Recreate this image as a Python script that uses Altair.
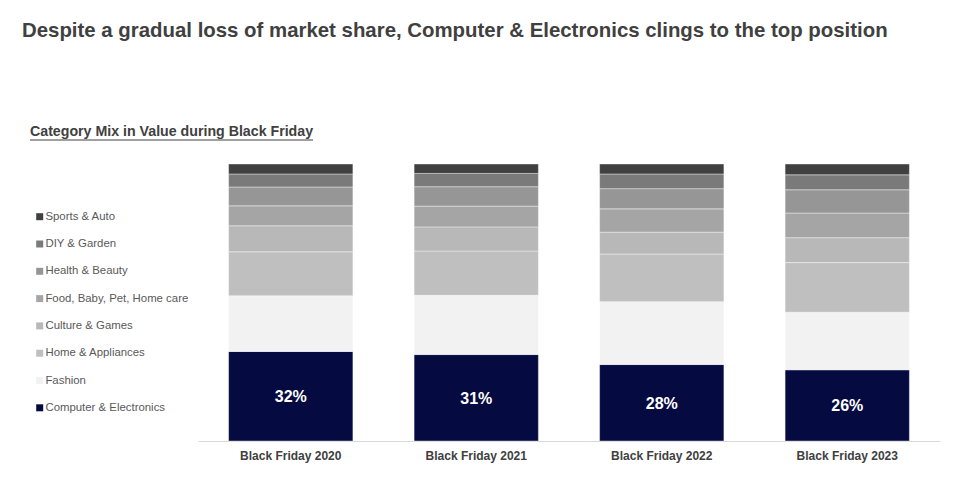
import altair as alt
import pandas as pd

TITLE = "Despite a gradual loss of market share, Computer & Electronics clings to the top position"
SUBTITLE = "Category Mix in Value during Black Friday"

periods = ["Black Friday 2020", "Black Friday 2021", "Black Friday 2022", "Black Friday 2023"]
# bottom -> top stacking order
categories = ["Computer & Electronics", "Fashion", "Home & Appliances", "Culture & Games",
              "Food, Baby, Pet, Home care", "Health & Beauty", "DIY & Garden", "Sports & Auto"]
colors = ["#050A41", "#F2F2F2", "#BFBFBF", "#B8B8B8", "#A5A5A5", "#969696", "#7A7A7A", "#404040"]

share_2020 = [32.3, 20.1, 15.9, 9.4, 7.2, 6.8, 4.7, 3.6]
share_2021 = [31.2, 21.4, 16.0, 8.7, 7.5, 7.0, 4.8, 3.4]
share_2022 = [27.6, 22.7, 17.2, 7.9, 8.4, 7.3, 5.3, 3.6]
share_2023 = [25.7, 20.8, 17.9, 9.0, 8.9, 8.4, 5.4, 3.9]

rows = []
for p, vals in zip(periods, [share_2020, share_2021, share_2022, share_2023]):
    for i, (c, v) in enumerate(zip(categories, vals)):
        rows.append({"period": p, "category": c, "value": v, "rank": i})
df = pd.DataFrame(rows)

legend_order = list(reversed(categories))
legend_colors = list(reversed(colors))

FONT = "Liberation Sans"

x_enc = alt.X("period:N", sort=periods, title=None,
              scale=alt.Scale(paddingInner=0.33, paddingOuter=0.165),
              axis=alt.Axis(labelAngle=0, labelFont=FONT, labelFontSize=12, labelFontWeight="bold",
                            labelColor="#404040", labelPadding=9, ticks=False,
                            domainColor="#D9D9D9", domainWidth=1))

bars = alt.Chart(df).mark_bar(stroke="#FFFFFF", strokeWidth=0.4).encode(
    x=x_enc,
    y=alt.Y("value:Q", stack="zero", axis=None, scale=alt.Scale(domain=[0, 100])),
    color=alt.Color("category:N",
                    scale=alt.Scale(domain=legend_order, range=legend_colors),
                    legend=alt.Legend(title=None, orient="none", legendX=-164, legendY=47,
                                      symbolType="square", symbolSize=49, symbolStrokeWidth=0,
                                      labelFont=FONT, labelFontSize=11.4, labelColor="#595959",
                                      rowPadding=14.3, labelOffset=0)),
    order=alt.Order("rank:Q", sort="ascending"),
)

labels = alt.Chart(df).transform_filter(
    alt.datum.category == "Computer & Electronics"
).transform_calculate(
    mid="datum.value / 2",
    lab="format(round(datum.value), 'd') + '%'"
).mark_text(color="white", font=FONT, fontSize=16, fontWeight="bold", dy=1).encode(
    x=alt.X("period:N", sort=periods),
    y=alt.Y("mid:Q"),
    text="lab:N",
)

title = alt.Chart(pd.DataFrame({"t": [TITLE]})).mark_text(
    align="left", baseline="middle", font=FONT, fontSize=20.4, fontWeight="bold", color="#404040"
).encode(text="t:N", x=alt.value(-176), y=alt.value(-133))

subtitle = alt.Chart(pd.DataFrame({"t": [SUBTITLE]})).mark_text(
    align="left", baseline="middle", font=FONT, fontSize=14.2, fontWeight="bold", color="#404040"
).encode(text="t:N", x=alt.value(-168), y=alt.value(-32))

underline = alt.Chart(pd.DataFrame({"t": [SUBTITLE]})).mark_rule(color="#404040", strokeWidth=1).encode(
    x=alt.value(-168), x2=alt.value(115), y=alt.value(-24)
)

chart = alt.layer(bars, labels, title, subtitle, underline).properties(
    width=742, height=277,
    padding={"left": 190, "top": 156, "right": 27, "bottom": 29},
    autosize=alt.AutoSizeParams(type="none"),
).configure(background="white").configure_view(stroke=None)

chart.save("out.html", embed_options={"renderer": "svg", "actions": False})
